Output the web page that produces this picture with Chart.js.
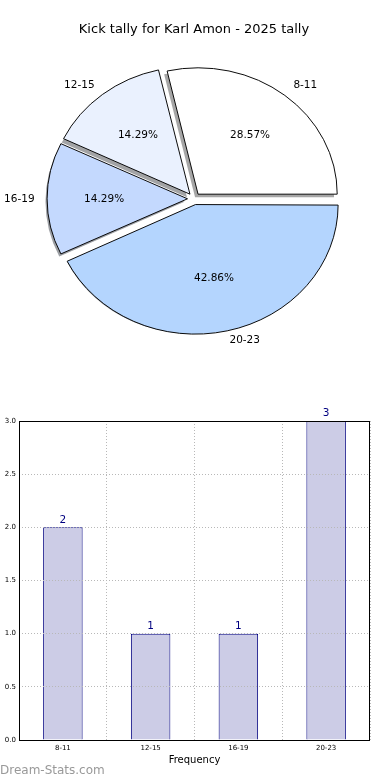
<!DOCTYPE html>
<html>
<head>
<meta charset="utf-8">
<script src="https://cdn.jsdelivr.net/npm/chart.js@4"></script>
<style>
  html, body { margin: 0; padding: 0; background: #fff; }
  #wrap { position: relative; width: 390px; height: 780px; overflow: hidden; }
  #pie_chart { position: absolute; left: 0; top: 0; }
  #bar_chart { position: absolute; left: 0; top: 400px; }
  #mark { position: absolute; left: 0; top: 763px; font: 12px "DejaVu Sans", sans-serif; color: #999; }
</style>
</head>
<body>
<div id="wrap">
  <canvas id="pie_chart" width="390" height="400"></canvas>
  <canvas id="bar_chart" width="390" height="380"></canvas>
  <div id="mark">Dream-Stats.com</div>
</div>
<script>
// Kick tally, grouped by kicks per game
const categories = ["8-11", "12-15", "16-19", "20-23"];
const counts = [2, 1, 1, 3];
const pieColors = ["#ffffff", "#eaf1fe", "#c4d9fe", "#b4d5fe"];
const yTicks = [0, 0.5, 1, 1.5, 2, 2.5, 3];

const font = "'DejaVu Sans', sans-serif";
const total = counts.reduce((a, b) => a + b, 0);
const squash = 0.908; // the original pie is a bit flattened

// matplotlib goes counter-clockwise from east, Chart.js clockwise -> reverse order
const pieLabels = categories.slice().reverse();
const pieData = counts.slice().reverse();
const pieBg = pieColors.slice().reverse();

function shadowOf(hex) {
    const n = parseInt(hex.slice(1), 16);
    const r = Math.round(((n >> 16) & 255) * 0.3);
    const g = Math.round(((n >> 8) & 255) * 0.3);
    const b = Math.round((n & 255) * 0.3);
    return "rgba(" + r + "," + g + "," + b + ",0.5)";
}

function squashAround(ctx, x, y) {
    ctx.translate(x, y);
    ctx.scale(1, squash);
    ctx.translate(-x, -y);
}

const piePlugin = {
    id: "pieExtras",
    beforeDatasetsDraw(chart) {
        const ctx = chart.ctx;
        const arcs = chart.getDatasetMeta(0).data;
        const cx = arcs[0].x, cy = arcs[0].y;
        // shadows
        ctx.save();
        ctx.translate(-3, 3);
        squashAround(ctx, cx, cy);
        arcs.forEach((arc, i) => {
            const mid = (arc.startAngle + arc.endAngle) / 2;
            const shift = (arc.options.offset || 0) / 4;
            const x = arc.x + Math.cos(mid) * shift;
            const y = arc.y + Math.sin(mid) * shift;
            ctx.beginPath();
            ctx.moveTo(x, y);
            ctx.arc(x, y, arc.outerRadius, arc.startAngle, arc.endAngle);
            ctx.closePath();
            ctx.fillStyle = shadowOf(pieBg[i]);
            ctx.fill();
        });
        ctx.restore();
        ctx.save();
        squashAround(ctx, cx, cy);
    },
    afterDatasetsDraw(chart) {
        const ctx = chart.ctx;
        ctx.restore();
        const arcs = chart.getDatasetMeta(0).data;
        ctx.save();
        ctx.fillStyle = "#000";
        ctx.textBaseline = "middle";
        ctx.font = "10.5px " + font;
        arcs.forEach((arc, i) => {
            const mid = (arc.startAngle + arc.endAngle) / 2;
            const shift = (arc.options.offset || 0) / 4;
            const r = arc.outerRadius;
            const px = (k) => arc.x + Math.cos(mid) * (shift + r * k);
            const py = (k) => arc.y + Math.sin(mid) * (shift + r * k) * squash;
            const pct = (pieData[i] / total * 100).toFixed(2) + "%";
            ctx.textAlign = "center";
            ctx.fillText(pct, px(0.6), py(0.6));
            ctx.textAlign = Math.cos(mid) > 0 ? "left" : "right";
            ctx.fillText(pieLabels[i], px(1.1), py(1.1));
        });
        ctx.restore();
    }
};

const pieChart = new Chart(document.getElementById("pie_chart"), {
    type: "pie",
    data: {
        labels: pieLabels,
        datasets: [{
            data: pieData,
            backgroundColor: pieBg,
            borderColor: "#000",
            borderWidth: 1,
            offset: 26,
            radius: 139
        }]
    },
    options: {
        responsive: false,
        animation: false,
        rotation: 90,
        layout: { padding: { top: 0, bottom: 62, left: 0, right: 2 } },
        plugins: {
            legend: { display: false },
            tooltip: { enabled: false },
            title: {
                display: true,
                text: "Kick tally for Karl Amon - 2025 tally",
                color: "#000",
                font: { family: font, size: 13, weight: "normal" },
                padding: { top: 22, bottom: 22 }
            }
        }
    },
    plugins: [piePlugin]
});

const barExtras = {
    id: "barExtras",
    afterDatasetsDraw(chart) {
        const ctx = chart.ctx;
        const meta = chart.getDatasetMeta(0);
        ctx.save();
        ctx.fillStyle = "#000080";
        ctx.font = "10.5px " + font;
        ctx.textAlign = "center";
        ctx.textBaseline = "bottom";
        meta.data.forEach((bar, i) => {
            ctx.fillText(String(counts[i]), bar.x, bar.y - 2);
        });
        ctx.restore();
    },
    afterDraw(chart) {
        const a = chart.chartArea;
        const ctx = chart.ctx;
        ctx.save();
        ctx.strokeStyle = "#000";
        ctx.lineWidth = 1;
        ctx.strokeRect(Math.round(a.left) + 0.5, Math.round(a.top) + 0.5,
            Math.round(a.right - a.left) - 1, Math.round(a.bottom - a.top));
        ctx.restore();
    }
};

const barChart = new Chart(document.getElementById("bar_chart"), {
    type: "bar",
    data: {
        labels: categories,
        datasets: [{
            data: counts,
            backgroundColor: "#ccccE6",
            borderColor: "#000080",
            borderWidth: 1,
            barPercentage: 0.45,
            categoryPercentage: 1
        }]
    },
    options: {
        responsive: false,
        animation: false,
        layout: { padding: { top: 21, right: 20, left: 0, bottom: 0 } },
        plugins: {
            legend: { display: false },
            tooltip: { enabled: false }
        },
        scales: {
            x: {
                grid: { color: "#b8b8b8", drawTicks: false, z: 1 },
                border: { display: false, dash: [1, 2] },
                ticks: { color: "#000", padding: 4, font: { family: font, size: 7 } },
                title: {
                    display: true,
                    text: "Frequency",
                    color: "#000",
                    font: { family: font, size: 10 },
                    padding: { top: 0, bottom: 14 }
                },
                afterFit: s => { s.height = 40; }
            },
            y: {
                min: 0,
                max: 3,
                afterBuildTicks: s => { s.ticks = yTicks.map(v => ({ value: v })); },
                grid: { color: "#b8b8b8", drawTicks: false, z: 1 },
                border: { display: false, dash: [1, 2] },
                ticks: {
                    color: "#000",
                    padding: 3,
                    font: { family: font, size: 7 },
                    callback: v => Number(v).toFixed(1)
                },
                afterFit: s => { s.width = 19; }
            }
        }
    },
    plugins: [barExtras]
});
</script>
</body>
</html>
